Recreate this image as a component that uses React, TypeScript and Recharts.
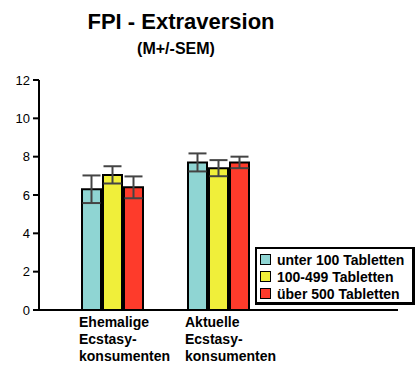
import React from 'react';
import { BarChart, Bar, XAxis, YAxis, ErrorBar } from 'recharts';

const categories = ['Ehemalige\nEcstasy-\nkonsumenten', 'Aktuelle\nEcstasy-\nkonsumenten'];
const seriesNames = ['unter 100 Tabletten', '100-499 Tabletten', 'über 500 Tabletten'];
const seriesColors = ['#8fd5d3', '#f0ef3a', '#fe3b2b'];
const under100 = [6.3, 7.7];
const under100Sem = [0.72, 0.47];
const mid100to499 = [7.05, 7.4];
const mid100to499Sem = [0.45, 0.42];
const over500 = [6.4, 7.7];
const over500Sem = [0.57, 0.3];
const yTicks = [0, 2, 4, 6, 8, 10, 12];

const FONT = '"Liberation Sans", Arial, sans-serif';

const data = categories.map((c, i) => ({
    name: c,
    s0: under100[i],
    e0: under100Sem[i],
    s1: mid100to499[i],
    e1: mid100to499Sem[i],
    s2: over500[i],
    e2: over500Sem[i],
}));

function CategoryTick(props: any) {
    const { x, payload } = props;
    const lines = String(payload.value).split('\n');
    return (
        <text x={x - 33} y={327} textAnchor="start" fontFamily={FONT} fontSize={14} fontWeight="bold" fill="#000">
            {lines.map((l, i) => (
                <tspan key={i} x={x - 33} dy={i === 0 ? 0 : 17}>
                    {l}
                </tspan>
            ))}
        </text>
    );
}

function LegendBox() {
    return (
        <div
            style={{
                position: 'absolute',
                left: 255,
                top: 247,
                width: 152,
                height: 51,
                border: '2px solid #000',
                borderRightWidth: 3,
                borderBottomWidth: 3,
                background: '#fff',
                fontFamily: FONT,
                fontWeight: 'bold',
                fontSize: 14,
                padding: '2px 0 0 3px',
                boxSizing: 'content-box',
            }}
        >
            {seriesNames.map((n, i) => (
                <div key={n} style={{ display: 'flex', alignItems: 'center', height: 17, whiteSpace: 'nowrap' }}>
                    <span
                        style={{
                            display: 'inline-block',
                            width: 9,
                            height: 9,
                            border: '1.5px solid #000',
                            background: seriesColors[i],
                            marginRight: 6,
                        }}
                    />
                    {n}
                </div>
            ))}
        </div>
    );
}

export default function App() {
    return (
        <div style={{ position: 'absolute', left: 0, top: 0, width: 415, height: 365, background: '#fff' }}>
            <div
                style={{
                    position: 'absolute',
                    left: 0,
                    width: 362,
                    top: 9,
                    textAlign: 'center',
                    fontFamily: FONT,
                    fontWeight: 'bold',
                    fontSize: 22,
                }}
            >
                FPI - Extraversion
            </div>
            <div
                style={{
                    position: 'absolute',
                    left: 0,
                    width: 352,
                    top: 40,
                    textAlign: 'center',
                    fontFamily: FONT,
                    fontWeight: 'bold',
                    fontSize: 16,
                }}
            >
                (M+/-SEM)
            </div>
            <BarChart
                width={415}
                height={365}
                data={data}
                margin={{ top: 80, right: 17, bottom: 54, left: 0 }}
                barSize={19}
                barGap={2}
            >
                <XAxis
                    dataKey="name"
                    height={1}
                    padding={{ left: 20, right: 127 }}
                    axisLine={{ stroke: '#000', strokeWidth: 2 }}
                    tickLine={false}
                    tick={<CategoryTick />}
                    interval={0}
                />
                <YAxis
                    width={39}
                    domain={[0, 12]}
                    ticks={yTicks}
                    axisLine={{ stroke: '#000', strokeWidth: 2 }}
                    tickLine={{ stroke: '#000', strokeWidth: 2 }}
                    tickSize={6}
                    tickMargin={3}
                    tick={{ fill: '#000', fontSize: 13, fontFamily: FONT }}
                />
                {seriesColors.map((col, i) => (
                    <Bar
                        key={i}
                        dataKey={`s${i}`}
                        name={seriesNames[i]}
                        fill={col}
                        stroke="#000"
                        strokeWidth={2}
                        isAnimationActive={false}
                    >
                        <ErrorBar dataKey={`e${i}`} width={9} stroke="#444" strokeWidth={2} isAnimationActive={false} />
                    </Bar>
                ))}
            </BarChart>
            <LegendBox />
        </div>
    );
}
